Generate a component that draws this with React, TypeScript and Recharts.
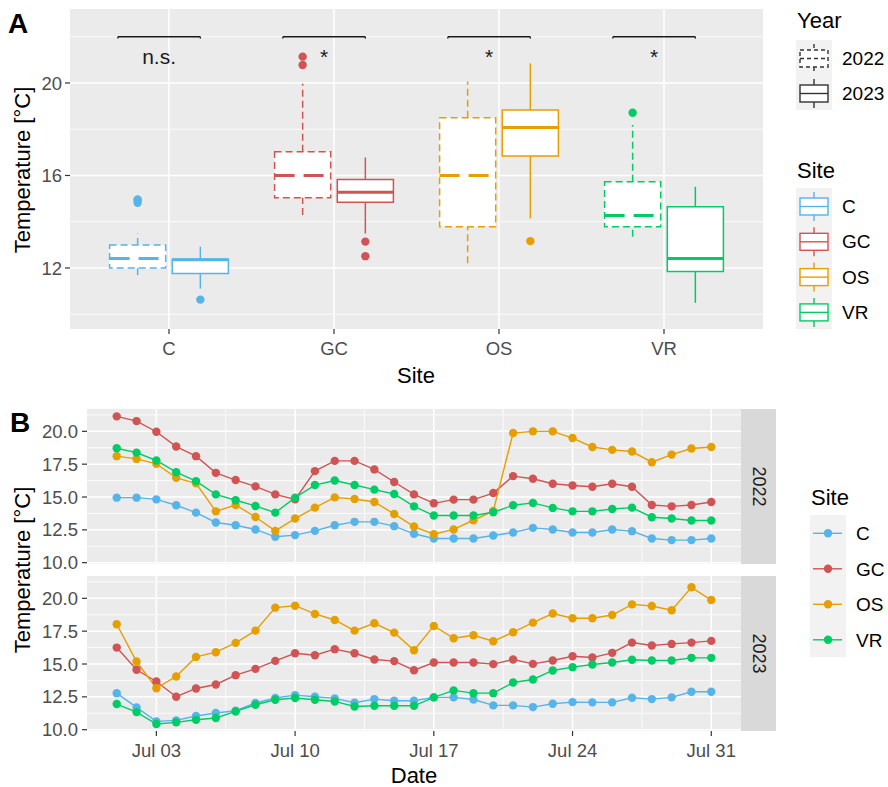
import React from 'react';
import {
  ComposedChart,
  LineChart,
  Line,
  Scatter,
  XAxis,
  YAxis,
  CartesianGrid,
  ReferenceArea,
  ReferenceLine,
} from 'recharts';

const FONT = '"Liberation Sans", Arial, Helvetica, sans-serif';

const SITES = ['C', 'GC', 'OS', 'VR'];
const SITE_COLORS = ['#56B4E9', '#D05454', '#E69F00', '#00CC66'];
const YEARS = ['2022', '2023'];

// boxplot stats per site: [lower whisker, q1, median, q3, upper whisker]
const box2022 = [
  [11.69, 12.0, 12.41, 12.99, 13.49],
  [14.29, 15.04, 16.0, 17.03, 19.97],
  [12.2, 13.78, 16.0, 18.5, 20.06],
  [13.35, 13.78, 14.27, 15.73, 18.18],
];
const box2023 = [
  [11.11, 11.76, 12.35, 12.38, 12.92],
  [13.49, 14.84, 15.27, 15.83, 16.78],
  [14.14, 16.84, 18.07, 18.83, 20.85],
  [10.49, 11.85, 12.41, 14.65, 15.51],
];
const outliers2022 = [[14.82, 14.95, 14.95], [20.78, 21.14], [], [18.71]];
const outliers2023 = [[10.63], [12.51, 13.14], [13.16], []];
const sigLabels = ['n.s.', '*', '*', '*'];
const SIG_BAR_Y = 22;
const SIG_TEXT_Y = 20.82;

// daily means, July 1..31
const days = [1, 2, 3, 4, 5, 6, 7, 8, 9, 10, 11, 12, 13, 14, 15, 16, 17, 18, 19, 20, 21, 22, 23, 24, 25, 26, 27, 28, 29, 30, 31];

const c2022 = [14.95, 14.95, 14.82, 14.37, 13.81, 13.06, 12.85, 12.53, 11.97, 12.1, 12.42, 12.85, 13.11, 13.11, 12.78, 12.2, 11.84, 11.84, 11.84, 12.07, 12.3, 12.65, 12.53, 12.3, 12.3, 12.53, 12.4, 11.84, 11.72, 11.72, 11.84];
const gc2022 = [21.14, 20.78, 19.97, 18.84, 18.11, 16.84, 16.29, 15.81, 15.2, 14.82, 16.97, 17.75, 17.75, 17.1, 16.14, 15.2, 14.52, 14.8, 14.8, 15.3, 16.59, 16.39, 16.01, 15.88, 15.78, 16.01, 15.78, 14.39, 14.29, 14.39, 14.62];
const os2022 = [18.11, 17.9, 17.53, 16.46, 16.04, 13.91, 14.39, 13.48, 12.42, 13.36, 14.19, 14.97, 14.85, 14.62, 13.71, 12.75, 12.17, 12.53, 13.23, 13.94, 19.87, 20.0, 20.0, 19.49, 18.81, 18.59, 18.46, 17.65, 18.23, 18.69, 18.81];
const vr2022 = [18.71, 18.38, 17.78, 16.89, 16.21, 15.2, 14.75, 14.32, 13.81, 14.95, 15.91, 16.26, 15.91, 15.56, 15.23, 14.29, 13.59, 13.59, 13.59, 13.84, 14.37, 14.55, 14.17, 13.91, 13.91, 14.09, 14.19, 13.46, 13.36, 13.21, 13.21];

const c2023 = [12.78, 11.7, 10.63, 10.71, 11.04, 11.27, 11.44, 12.03, 12.41, 12.63, 12.51, 12.38, 12.05, 12.33, 12.2, 12.2, 12.46, 12.46, 12.3, 11.85, 11.85, 11.72, 11.97, 12.1, 12.08, 12.08, 12.43, 12.33, 12.46, 12.89, 12.89];
const gc2023 = [16.25, 14.56, 13.67, 12.51, 13.14, 13.44, 14.15, 14.63, 15.24, 15.82, 15.67, 16.13, 15.82, 15.34, 15.22, 14.53, 15.11, 15.11, 15.11, 14.99, 15.34, 15.01, 15.27, 15.59, 15.49, 15.85, 16.63, 16.41, 16.53, 16.63, 16.76];
const os2023 = [18.03, 15.19, 13.16, 14.05, 15.54, 15.9, 16.61, 17.54, 19.29, 19.44, 18.81, 18.35, 17.54, 18.1, 17.39, 16.05, 17.9, 16.96, 17.19, 16.73, 17.42, 18.15, 18.84, 18.48, 18.48, 18.73, 19.54, 19.42, 19.09, 20.84, 19.87];
const vr2023 = [11.95, 11.34, 10.43, 10.56, 10.76, 10.89, 11.39, 11.9, 12.28, 12.41, 12.28, 12.15, 11.77, 11.82, 11.82, 11.82, 12.46, 12.99, 12.78, 12.78, 13.59, 13.82, 14.51, 14.76, 14.96, 15.11, 15.32, 15.27, 15.27, 15.47, 15.47];

const dateTicks = [3, 10, 17, 24, 31];
const dateTickLabels = ['Jul 03', 'Jul 10', 'Jul 17', 'Jul 24', 'Jul 31'];
const dateMinor = [6.5, 13.5, 20.5, 27.5];
const tempTicksB = [10, 12.5, 15, 17.5, 20];
const tempMinorB = [11.25, 13.75, 16.25, 18.75, 21.25];
const tempTicksA = [12, 16, 20];
const tempMinorA = [10, 14, 18, 22];

const BOX_OFFSET = 0.19;
const BOX_HALF = 0.17;

const toRows = (series: number[][]) =>
  days.map((d, i) => ({ day: d, C: series[0][i], GC: series[1][i], OS: series[2][i], VR: series[3][i] }));

const rows2022 = toRows([c2022, gc2022, os2022, vr2022]);
const rows2023 = toRows([c2023, gc2023, os2023, vr2023]);

const tickStyle = { fontSize: 18.5, fill: '#4D4D4D', fontFamily: FONT };
const tickLine = { stroke: '#333333', strokeWidth: 1.2 };

const outlierPoints = [
  ...outliers2022.flatMap((vals, i) => vals.map(v => ({ x: i + 1 - BOX_OFFSET, y: v, color: SITE_COLORS[i] }))),
  ...outliers2023.flatMap((vals, i) => vals.map(v => ({ x: i + 1 + BOX_OFFSET, y: v, color: SITE_COLORS[i] }))),
];
const sigPoints = sigLabels.map((t, i) => ({ x: i + 1 - 0.06, y: SIG_TEXT_Y, text: t }));

function boxElements(stats: number[][], year: number) {
  const dashed = year === 0;
  const off = year === 0 ? -BOX_OFFSET : BOX_OFFSET;
  const out: React.ReactNode[] = [];
  stats.forEach(([lo, q1, med, q3, hi], i) => {
    const cx = i + 1 + off;
    const col = SITE_COLORS[i];
    const dash = dashed ? '7 4' : undefined;
    out.push(
      <ReferenceLine key={`wu${year}${i}`} segment={[{ x: cx, y: q3 }, { x: cx, y: hi }]}
        stroke={col} strokeWidth={1.5} strokeDasharray={dash} />,
      <ReferenceLine key={`wl${year}${i}`} segment={[{ x: cx, y: lo }, { x: cx, y: q1 }]}
        stroke={col} strokeWidth={1.5} strokeDasharray={dash} />,
      <ReferenceArea key={`b${year}${i}`} x1={cx - BOX_HALF} x2={cx + BOX_HALF} y1={q1} y2={q3}
        fill="#FFFFFF" fillOpacity={1} stroke={col} strokeWidth={1.5} strokeDasharray={dash} />,
      <ReferenceLine key={`m${year}${i}`} segment={[{ x: cx - BOX_HALF, y: med }, { x: cx + BOX_HALF, y: med }]}
        stroke={col} strokeWidth={3} strokeDasharray={dashed ? '20 9' : undefined} />,
    );
  });
  return out;
}

function sigBrackets() {
  const out: React.ReactNode[] = [];
  SITES.forEach((_, i) => {
    const x1 = i + 1 - 0.31;
    const x2 = i + 1 + 0.19;
    out.push(
      <ReferenceLine key={`s${i}`} segment={[{ x: x1, y: SIG_BAR_Y }, { x: x2, y: SIG_BAR_Y }]} stroke="#1A1A1A" strokeWidth={1.3} />,
      <ReferenceLine key={`sl${i}`} segment={[{ x: x1, y: SIG_BAR_Y }, { x: x1, y: SIG_BAR_Y - 0.08 }]} stroke="#1A1A1A" strokeWidth={1.3} />,
      <ReferenceLine key={`sr${i}`} segment={[{ x: x2, y: SIG_BAR_Y }, { x: x2, y: SIG_BAR_Y - 0.08 }]} stroke="#1A1A1A" strokeWidth={1.3} />,
    );
  });
  return out;
}

function BoxPanel() {
  return (
    <ComposedChart width={770} height={390} margin={{ top: 9, right: 7, bottom: 0, left: 0 }}>
      <CartesianGrid fill="#EBEBEB" stroke="#FFFFFF" strokeWidth={0.8}
        horizontalValues={tempMinorA} vertical={false} />
      <CartesianGrid stroke="#FFFFFF" strokeWidth={1.5}
        horizontalValues={tempTicksA} verticalValues={[1, 2, 3, 4]} />
      <XAxis type="number" dataKey="x" domain={[0.4, 4.6]} ticks={[1, 2, 3, 4]} allowDataOverflow
        tickFormatter={(v: number) => SITES[v - 1]} height={61} axisLine={false}
        tickSize={5} tickMargin={8} tick={tickStyle} tickLine={tickLine} interval={0} />
      <YAxis type="number" domain={[9.36, 23.2]} ticks={tempTicksA} allowDataOverflow width={70}
        axisLine={false} tickSize={5} tickMargin={3} tick={tickStyle} tickLine={tickLine} interval={0} />
      {boxElements(box2022, 0)}
      {boxElements(box2023, 1)}
      {sigBrackets()}
      <Scatter data={outlierPoints} dataKey="y" isAnimationActive={false}
        shape={(p: any) => <circle cx={p.cx} cy={p.cy} r={4.2} fill={p.payload.color} />} />
      <Scatter data={sigPoints} dataKey="y" isAnimationActive={false}
        shape={(p: any) => (
          <text x={p.cx} y={p.cy} textAnchor="middle" fontSize={21} fill="#1A1A1A" fontFamily={FONT}>
            {p.payload.text}
          </text>
        )} />
    </ComposedChart>
  );
}

function Facet({ rows, showX, height, bottom }: { rows: any[]; showX: boolean; height: number; bottom: number }) {
  return (
    <LineChart width={741} height={height} data={rows} margin={{ top: 9, right: 0, bottom, left: 0 }}>
      <CartesianGrid fill="#EBEBEB" stroke="#FFFFFF" strokeWidth={0.8}
        horizontalValues={tempMinorB} verticalValues={dateMinor} />
      <CartesianGrid stroke="#FFFFFF" strokeWidth={1.5}
        horizontalValues={tempTicksB} verticalValues={dateTicks} />
      <XAxis type="number" dataKey="day" domain={[-0.5, 32.5]} ticks={dateTicks} allowDataOverflow
        hide={!showX} height={showX ? 56 : 0} axisLine={false} interval={0}
        tickFormatter={(v: number) => dateTickLabels[dateTicks.indexOf(v)]}
        tickSize={5} tickMargin={8} tick={tickStyle} tickLine={tickLine} />
      <YAxis type="number" domain={[9.9, 21.7]} ticks={tempTicksB} allowDataOverflow width={87}
        tickFormatter={(v: number) => v.toFixed(1)} axisLine={false} interval={0}
        tickSize={5} tickMargin={4} tick={tickStyle} tickLine={tickLine} />
      {SITES.map((s, i) => (
        <Line key={s} type="linear" dataKey={s} stroke={SITE_COLORS[i]} strokeWidth={1.4}
          dot={{ r: 4.2, fill: SITE_COLORS[i], stroke: 'none' }} activeDot={false}
          isAnimationActive={false} />
      ))}
    </LineChart>
  );
}

function BoxKey({ color, dashed, y }: { color: string; dashed?: boolean; y: number }) {
  const dash = dashed ? '4 3' : undefined;
  return (
    <g transform={`translate(796, ${y})`} fill="none" stroke={color} strokeWidth={1.4} strokeDasharray={dash}>
      <line x1={18} x2={18} y1={4} y2={10} />
      <rect x={4} y={10} width={28} height={17} fill="#FFFFFF" />
      <line x1={4} x2={32} y1={18.5} y2={18.5} />
      <line x1={18} x2={18} y1={27} y2={33} />
    </g>
  );
}

function Overlay() {
  const title = { fontSize: 22, fill: '#000000', fontFamily: FONT };
  const label = { fontSize: 19, fill: '#000000', fontFamily: FONT };
  return (
    <svg width={888} height={787} style={{ position: 'absolute', left: 0, top: 0, pointerEvents: 'none' }}>
      <text x={8} y={33} fontSize={28} fontWeight="bold" fontFamily={FONT}>A</text>
      <text x={10} y={432} fontSize={28} fontWeight="bold" fontFamily={FONT}>B</text>

      <text {...title} x={416} y={383} textAnchor="middle">Site</text>
      <text {...title} transform="translate(30, 170) rotate(-90)" textAnchor="middle">Temperature [°C]</text>
      <text {...title} x={414} y={783} textAnchor="middle">Date</text>
      <text {...title} transform="translate(30, 570) rotate(-90)" textAnchor="middle">Temperature [°C]</text>

      {/* facet strips */}
      {YEARS.map((yr, i) => {
        const top = i === 0 ? 409 : 576;
        return (
          <g key={yr}>
            <rect x={741} y={top} width={35} height={155} fill="#D9D9D9" />
            <text x={758.5} y={top + 77.5} fontSize={18} fill="#1A1A1A" fontFamily={FONT}
              textAnchor="middle" dominantBaseline="central"
              transform={`rotate(90, 758.5, ${top + 77.5})`}>{yr}</text>
          </g>
        );
      })}

      {/* legend: Year */}
      <text {...title} x={797} y={28}>Year</text>
      <rect x={796} y={40} width={36} height={70} fill="#F2F2F2" />
      <BoxKey color="#333333" dashed y={40} />
      <BoxKey color="#333333" y={75} />
      <text {...label} x={842} y={65}>{YEARS[0]}</text>
      <text {...label} x={842} y={100}>{YEARS[1]}</text>

      {/* legend: Site (boxes) */}
      <text {...title} x={797} y={178}>Site</text>
      <rect x={796} y={188} width={36} height={141} fill="#F2F2F2" />
      {SITES.map((s, i) => (
        <g key={s}>
          <BoxKey color={SITE_COLORS[i]} y={188 + i * 35.3} />
          <text {...label} x={842} y={188 + i * 35.3 + 25}>{s}</text>
        </g>
      ))}

      {/* legend: Site (lines) */}
      <text {...title} x={811} y={505}>Site</text>
      <rect x={810} y={515} width={36} height={142} fill="#F2F2F2" />
      {SITES.map((s, i) => {
        const cy = 533.3 + i * 35.5;
        return (
          <g key={s}>
            <line x1={813} x2={842} y1={cy} y2={cy} stroke={SITE_COLORS[i]} strokeWidth={1.4} />
            <circle cx={828} cy={cy} r={4.2} fill={SITE_COLORS[i]} />
            <text {...label} x={856} y={cy + 7}>{s}</text>
          </g>
        );
      })}
    </svg>
  );
}

export default function App() {
  return (
    <div style={{ position: 'absolute', left: 0, top: 0, width: 888, height: 787, background: '#FFFFFF', fontFamily: FONT }}>
      <div style={{ position: 'absolute', left: 0, top: 0 }}>
        <BoxPanel />
      </div>
      <div style={{ position: 'absolute', left: 0, top: 567 }}>
        <Facet rows={rows2023} showX height={220} bottom={0} />
      </div>
      <div style={{ position: 'absolute', left: 0, top: 400 }}>
        <Facet rows={rows2022} showX={false} height={176} bottom={12} />
      </div>
      <Overlay />
    </div>
  );
}
